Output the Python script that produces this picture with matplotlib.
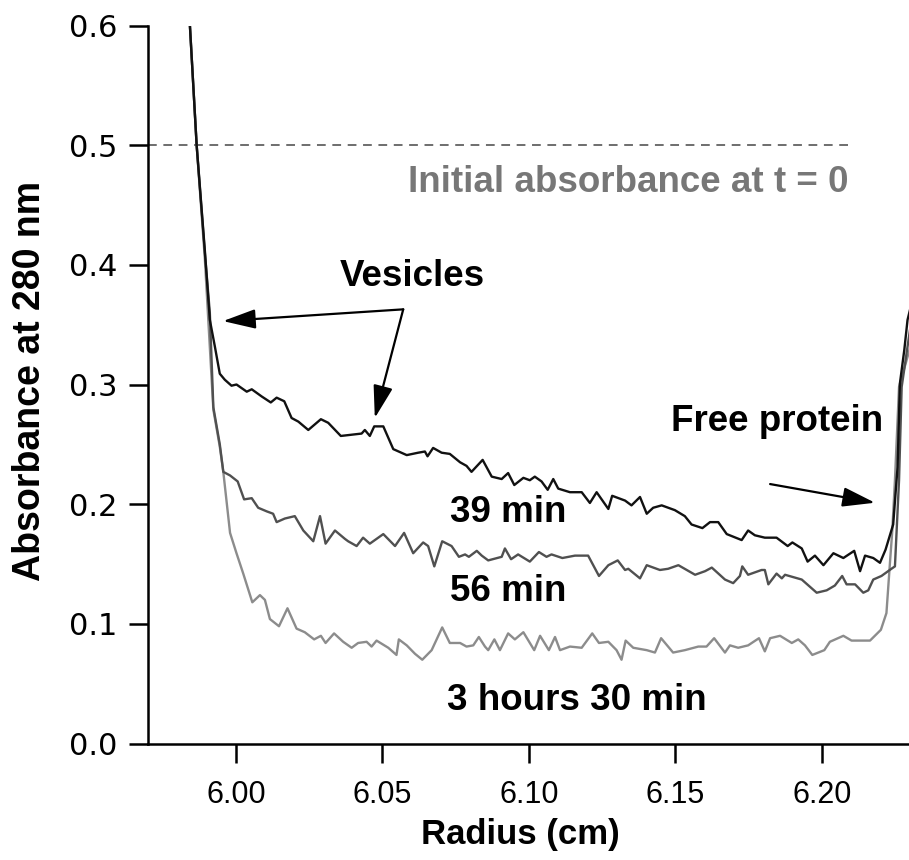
import matplotlib
matplotlib.use("Agg")
import matplotlib.pyplot as plt
import numpy as np

# radius (cm) and absorbance at 280 nm
r_39 = [5.9837, 5.9843, 5.9866, 5.9894, 5.9911, 5.9928, 5.9945, 5.9962, 5.9985, 6.0002,
        6.0037, 6.0054, 6.0088, 6.0119, 6.0139, 6.0165, 6.0190, 6.0213, 6.0247, 6.0290,
        6.0315, 6.0358, 6.0429, 6.0440, 6.0457, 6.0472, 6.0503, 6.0537, 6.0583, 6.0622,
        6.0645, 6.0654, 6.0673, 6.0702, 6.0730, 6.0765, 6.0787, 6.0804, 6.0842, 6.0873,
        6.0907, 6.0929, 6.0950, 6.0981, 6.1003, 6.1020, 6.1043, 6.1064, 6.1083, 6.1100,
        6.1140, 6.1180, 6.1208, 6.1231, 6.1271, 6.1284, 6.1328, 6.1350, 6.1379, 6.1402,
        6.1424, 6.1453, 6.1498, 6.1532, 6.1555, 6.1592, 6.1618, 6.1646, 6.1675, 6.1726,
        6.1748, 6.1771, 6.1805, 6.1828, 6.1845, 6.1883, 6.1899, 6.1931, 6.1951, 6.1976,
        6.2005, 6.2039, 6.2073, 6.2110, 6.2130, 6.2147, 6.2175, 6.2198, 6.2217, 6.2243,
        6.2258, 6.2266, 6.2281, 6.2292, 6.2300]
a_39 = [0.610, 0.600, 0.500, 0.412, 0.354, 0.332, 0.309, 0.304, 0.299, 0.300,
        0.294, 0.296, 0.290, 0.285, 0.289, 0.286, 0.272, 0.269, 0.262, 0.271,
        0.268, 0.257, 0.259, 0.262, 0.257, 0.265, 0.265, 0.246, 0.241, 0.243,
        0.244, 0.240, 0.247, 0.243, 0.242, 0.235, 0.232, 0.227, 0.237, 0.223,
        0.221, 0.226, 0.216, 0.222, 0.220, 0.223, 0.219, 0.212, 0.221, 0.213,
        0.210, 0.210, 0.201, 0.210, 0.196, 0.207, 0.203, 0.199, 0.206, 0.192,
        0.197, 0.199, 0.195, 0.190, 0.183, 0.180, 0.185, 0.185, 0.175, 0.170,
        0.178, 0.174, 0.172, 0.172, 0.172, 0.165, 0.168, 0.163, 0.152, 0.157,
        0.149, 0.159, 0.155, 0.161, 0.144, 0.157, 0.155, 0.151, 0.162, 0.183,
        0.231, 0.301, 0.329, 0.354, 0.362]

r_56 = [5.9837, 5.9843, 5.9866, 5.9894, 5.9911, 5.9923, 5.9945, 5.9957, 5.9980, 6.0006,
        6.0028, 6.0054, 6.0076, 6.0105, 6.0127, 6.0139, 6.0167, 6.0201, 6.0230, 6.0264,
        6.0287, 6.0306, 6.0338, 6.0372, 6.0383, 6.0412, 6.0434, 6.0457, 6.0503, 6.0543,
        6.0574, 6.0605, 6.0639, 6.0656, 6.0677, 6.0704, 6.0736, 6.0761, 6.0782, 6.0795,
        6.0822, 6.0839, 6.0861, 6.0907, 6.0918, 6.0939, 6.0963, 6.1003, 6.1034, 6.1060,
        6.1077, 6.1114, 6.1157, 6.1202, 6.1239, 6.1271, 6.1303, 6.1328, 6.1339, 6.1379,
        6.1402, 6.1447, 6.1475, 6.1510, 6.1567, 6.1601, 6.1624, 6.1669, 6.1697, 6.1720,
        6.1728, 6.1748, 6.1794, 6.1805, 6.1817, 6.1845, 6.1863, 6.1874, 6.1931, 6.1982,
        6.2016, 6.2044, 6.2069, 6.2084, 6.2113, 6.2141, 6.2158, 6.2175, 6.2203, 6.2237,
        6.2249, 6.2263, 6.2272, 6.2294, 6.2300]
a_56 = [0.610, 0.600, 0.500, 0.410, 0.360, 0.281, 0.250, 0.227, 0.224, 0.219,
        0.204, 0.205, 0.197, 0.194, 0.192, 0.185, 0.188, 0.190, 0.178, 0.169,
        0.190, 0.167, 0.178, 0.171, 0.169, 0.165, 0.172, 0.167, 0.175, 0.165,
        0.176, 0.159, 0.168, 0.165, 0.148, 0.169, 0.165, 0.156, 0.158, 0.156,
        0.161, 0.157, 0.153, 0.156, 0.163, 0.154, 0.158, 0.152, 0.160, 0.156,
        0.158, 0.155, 0.157, 0.157, 0.140, 0.149, 0.153, 0.145, 0.146, 0.138,
        0.149, 0.145, 0.146, 0.149, 0.141, 0.144, 0.147, 0.137, 0.134, 0.140,
        0.148, 0.141, 0.145, 0.145, 0.133, 0.142, 0.138, 0.141, 0.137, 0.126,
        0.128, 0.132, 0.140, 0.133, 0.133, 0.126, 0.128, 0.137, 0.140, 0.146,
        0.148, 0.220, 0.298, 0.335, 0.345]

r_210 = [5.9837, 5.9843, 5.9866, 5.9894, 5.9923, 5.9945, 5.9957, 5.9980, 6.0002, 6.0025,
         6.0056, 6.0082, 6.0099, 6.0116, 6.0147, 6.0176, 6.0207, 6.0235, 6.0267, 6.0290,
         6.0306, 6.0335, 6.0366, 6.0395, 6.0417, 6.0446, 6.0463, 6.0480, 6.0520, 6.0548,
         6.0556, 6.0583, 6.0611, 6.0636, 6.0668, 6.0704, 6.0730, 6.0765, 6.0787, 6.0810,
         6.0829, 6.0850, 6.0861, 6.0882, 6.0901, 6.0929, 6.0952, 6.0981, 6.1018, 6.1038,
         6.1068, 6.1089, 6.1106, 6.1140, 6.1180, 6.1216, 6.1239, 6.1271, 6.1299, 6.1316,
         6.1330, 6.1356, 6.1402, 6.1430, 6.1451, 6.1492, 6.1532, 6.1578, 6.1606, 6.1632,
         6.1669, 6.1686, 6.1714, 6.1748, 6.1785, 6.1805, 6.1823, 6.1857, 6.1897, 6.1919,
         6.1942, 6.1967, 6.2008, 6.2027, 6.2073, 6.2101, 6.2164, 6.2201, 6.2220, 6.2232,
         6.2240, 6.2249, 6.2263, 6.2300]
a_210 = [0.610, 0.600, 0.500, 0.405, 0.279, 0.248, 0.227, 0.176, 0.159, 0.142,
         0.118, 0.124, 0.120, 0.104, 0.098, 0.113, 0.096, 0.093, 0.087, 0.090,
         0.084, 0.092, 0.085, 0.080, 0.084, 0.085, 0.081, 0.086, 0.080, 0.074,
         0.087, 0.082, 0.075, 0.070, 0.078, 0.097, 0.084, 0.084, 0.081, 0.082,
         0.089, 0.081, 0.078, 0.087, 0.078, 0.092, 0.087, 0.093, 0.078, 0.090,
         0.078, 0.089, 0.078, 0.081, 0.080, 0.092, 0.084, 0.085, 0.078, 0.070,
         0.086, 0.080, 0.078, 0.076, 0.088, 0.076, 0.078, 0.081, 0.081, 0.088,
         0.076, 0.082, 0.080, 0.082, 0.088, 0.077, 0.088, 0.090, 0.084, 0.087,
         0.082, 0.074, 0.078, 0.085, 0.090, 0.086, 0.086, 0.095, 0.109, 0.151,
         0.178, 0.220, 0.298, 0.330]

initial_abs = 0.5
x_ticks = [6.00, 6.05, 6.10, 6.15, 6.20]
y_ticks = [0.0, 0.1, 0.2, 0.3, 0.4, 0.5, 0.6]

sans = ["Liberation Sans", "DejaVu Sans"]

fig = plt.figure(figsize=(9.09, 8.6), dpi=100)
ax = fig.add_axes([148 / 909, 116.5 / 860, 761 / 909, 718 / 860])

ax.plot(r_210, a_210, color="#8c8c8c", lw=1.7, zorder=2)
ax.plot(r_56, a_56, color="#505050", lw=1.7, zorder=3)
ax.plot(r_39, a_39, color="#111111", lw=1.7, zorder=4)

ax.axhline(initial_abs, xmax=0.92, color="#6e6e6e", lw=1.4, dashes=(4.5, 3.4), zorder=1)

ax.set_xlim(5.970, 6.2297)
ax.set_ylim(0, 0.6)
ax.set_xticks(x_ticks)
ax.set_xticklabels(["%.2f" % v for v in x_ticks], family=sans, fontsize=22)
ax.set_yticks(y_ticks)
ax.set_yticklabels(["%.1f" % v for v in y_ticks], family="DejaVu Sans", fontsize=22)
ax.tick_params(axis="both", direction="out", length=14, width=1.8, color="black")
ax.tick_params(axis="x", pad=12)
ax.tick_params(axis="y", pad=8)
for s in ["top", "right"]:
    ax.spines[s].set_visible(False)
for s in ["left", "bottom"]:
    ax.spines[s].set_linewidth(1.8)

ax.set_xlabel("Radius (cm)", family=sans, fontweight="bold", fontsize=25)
ax.xaxis.set_label_coords(0.489, -0.104)
ax.set_ylabel("Absorbance at 280 nm", family=sans, fontweight="bold", fontsize=27)
ax.yaxis.set_label_coords(-0.132, 0.505)

txt = dict(family=sans, fontweight="bold", fontsize=26.5, ha="center", va="center")
ax.text(6.1338, 0.469, "Initial absorbance at t = 0", color="#777777", **txt)
ax.text(6.0601, 0.390, "Vesicles", color="black", **txt)
ax.text(6.1846, 0.269, "Free protein", color="black", **txt)
ax.text(6.0928, 0.193, "39 min", color="black", **txt)
ax.text(6.0928, 0.127, "56 min", color="black", **txt)
ax.text(6.1164, 0.036, "3 hours 30 min", color="black", **txt)

arrow = dict(arrowstyle="-|>,head_length=1.0,head_width=0.3", mutation_scale=20,
             color="black", lw=1.6, shrinkA=0, shrinkB=0)
ax.annotate("", xy=(5.9956, 0.353), xytext=(6.0571, 0.3628), arrowprops=arrow)
ax.annotate("", xy=(6.0474, 0.272), xytext=(6.0571, 0.3628), arrowprops=arrow)
ax.annotate("", xy=(6.2181, 0.2012), xytext=(6.1823, 0.2168), arrowprops=arrow)

fig.savefig("out.png", dpi=100)
